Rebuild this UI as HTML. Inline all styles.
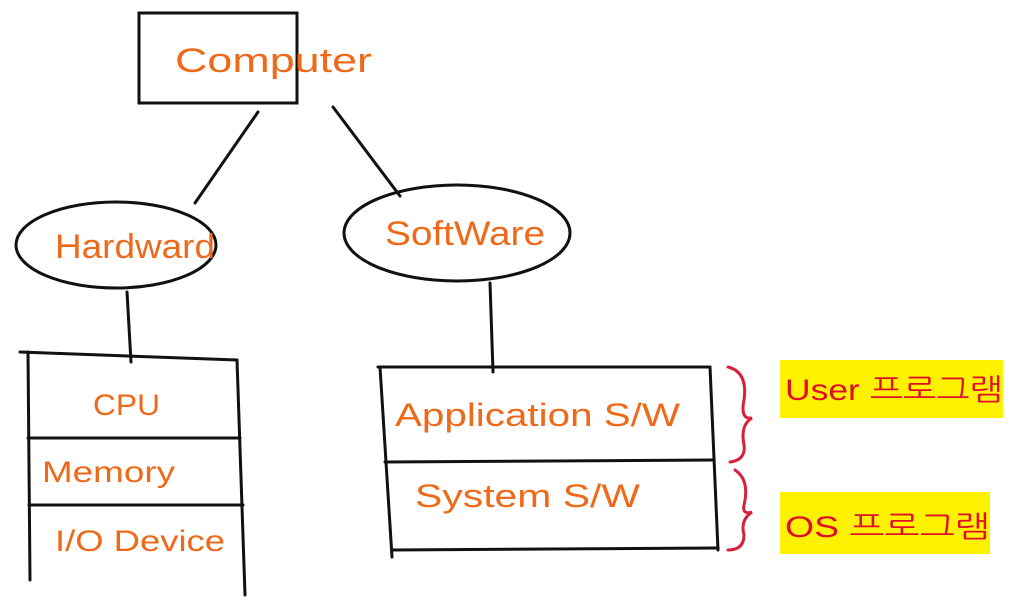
<!DOCTYPE html>
<html><head><meta charset="utf-8"><style>
html,body{margin:0;padding:0;background:#fff;}
svg{display:block;}
text{font-family:"Liberation Sans","NanumGothic",sans-serif;}
</style></head><body>
<svg width="1013" height="613" viewBox="0 0 1013 613" xmlns="http://www.w3.org/2000/svg">
<g stroke="#111" stroke-width="3" fill="none" stroke-linecap="round">
<rect x="139" y="13" width="158" height="90"/>
<line x1="258" y1="112" x2="195" y2="203"/>
<line x1="333" y1="107" x2="400" y2="196"/>
<ellipse cx="116" cy="245" rx="100" ry="43"/>
<ellipse cx="457" cy="233" rx="113" ry="48"/>
<line x1="127" y1="292" x2="131" y2="362"/>
<line x1="490" y1="283" x2="493" y2="372"/>
<line x1="20" y1="352" x2="237" y2="360"/>
<line x1="28" y1="352" x2="30" y2="580"/>
<line x1="237" y1="360" x2="245" y2="595"/>
<line x1="28" y1="438" x2="240" y2="438"/>
<line x1="29" y1="505" x2="243" y2="505"/>
<line x1="378" y1="367" x2="710" y2="367"/>
<line x1="380" y1="367" x2="392" y2="557"/>
<line x1="710" y1="367" x2="718" y2="550"/>
<line x1="385" y1="462" x2="713" y2="460"/>
<line x1="392" y1="550" x2="718" y2="548"/>
</g>
<g stroke="#d9203a" stroke-width="3" fill="none" stroke-linecap="round">
<path d="M728 367 Q748 372 744 400 Q740 420 752 418 Q740 425 744 445 Q746 460 730 462"/>
<path d="M735 470 Q750 480 744 505 Q742 515 752 512 Q740 520 744 535 Q744 550 728 550"/>
</g>
<rect x="780" y="360" width="223" height="58" fill="#fff200"/>
<rect x="780" y="492" width="210" height="62" fill="#fff200"/>
<g fill="#ee6a1a" font-size="34" lengthAdjust="spacingAndGlyphs">
<text x="175" y="72" textLength="197" lengthAdjust="spacingAndGlyphs">Computer</text>
<text x="55" y="258" textLength="160" lengthAdjust="spacingAndGlyphs">Hardward</text>
<text x="385" y="245" textLength="160" lengthAdjust="spacingAndGlyphs">SoftWare</text>
<text x="93" y="415" font-size="30" textLength="67" lengthAdjust="spacingAndGlyphs">CPU</text>
<text x="42" y="482" font-size="30" textLength="133" lengthAdjust="spacingAndGlyphs">Memory</text>
<text x="55" y="551" font-size="30" textLength="170" lengthAdjust="spacingAndGlyphs">I/O Device</text>
<text x="395" y="426" font-size="32" textLength="285" lengthAdjust="spacingAndGlyphs">Application S/W</text>
<text x="415" y="507" font-size="32" textLength="225" lengthAdjust="spacingAndGlyphs">System S/W</text>
</g>
<g fill="#e0102a" font-size="30">
<text x="785" y="400" textLength="218" lengthAdjust="spacingAndGlyphs">User 프로그램</text>
<text x="785" y="537" textLength="205" lengthAdjust="spacingAndGlyphs">OS 프로그램</text>
</g>
</svg>
</body></html>
